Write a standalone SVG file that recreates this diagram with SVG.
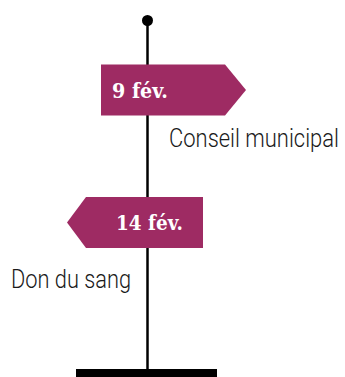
<svg xmlns="http://www.w3.org/2000/svg" width="345" height="377" viewBox="0 0 345 377">
<style>
.flag{fill:#9e2b63}
.date{font-family:"DejaVu Serif",serif;font-weight:bold;font-size:19.5px;fill:#ffffff}
.label{font-family:"Roboto","Liberation Sans",sans-serif;font-weight:300;font-size:21.5px;fill:#1a1a1a}
</style>
<rect width="345" height="377" fill="#ffffff"/>
<g id="axis">
<line x1="147.5" y1="20" x2="147.5" y2="372" stroke="#000" stroke-width="2.5"/>
<circle cx="147.5" cy="20.5" r="5.5" fill="#000"/>
<rect x="76" y="369" width="141" height="8" fill="#000"/>
</g>
<g id="event1">
<polygon class="flag" points="101,64.5 225,64.5 246,90 225,115.5 101,115.5"/>
<text class="date" x="112" y="97.5" textLength="56" lengthAdjust="spacingAndGlyphs">9 fév.</text>
<text class="label" transform="translate(169,147) scale(1,1.16)" x="0" y="0" textLength="170" lengthAdjust="spacingAndGlyphs">Conseil municipal</text>
</g>
<g id="event2">
<polygon class="flag" points="203,197 86,197 67,222.5 86,248 203,248"/>
<text class="date" x="116" y="229.5" textLength="67" lengthAdjust="spacingAndGlyphs">14 fév.</text>
<text class="label" transform="translate(11,288) scale(1,1.16)" x="0" y="0" textLength="120" lengthAdjust="spacingAndGlyphs">Don du sang</text>
</g>
</svg>
